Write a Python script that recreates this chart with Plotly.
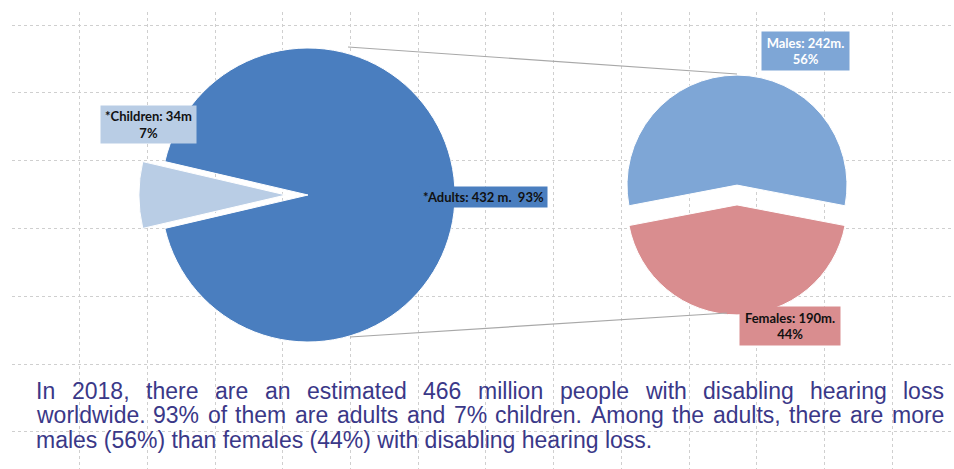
import plotly.graph_objects as go

# ---- data -------------------------------------------------------------
age_groups = ["*Children", "*Adults"]
age_values = [34, 432]            # millions of people
age_units = ["m", " m."]

sex_groups = ["Males", "Females"]
sex_values = [242, 190]           # millions of adults

caption_lines = [
    "In 2018, there are an estimated 466 million people with disabling hearing loss",
    "worldwide. 93% of them are adults and 7% children. Among the adults, there are more",
    "males (56%) than females (44%) with disabling hearing loss.",
]

# ---- page geometry (pixel coordinates, y grows downward) --------------
W, H = 954, 469
ML, MT = 12, 12
PW, PH = W - ML, H - MT

BIG = dict(cx=308, cy=195, r=147, pull=0.15)
SMALL = dict(cx=737, cy=195, r=110, pull=0.09)

ADULT_BLUE = "#4a7ebf"
CHILD_BLUE = "#b9cde5"
MALE_BLUE = "#7ea6d6"
FEMALE_RED = "#d98d8f"
CAPTION = "#3a3888"


def pie_domain(cx, cy, r, pull):
    half = r * (1 + pull)
    return dict(
        x=[(cx - half - ML) / PW, (cx + half - ML) / PW],
        y=[1 - (cy + half - MT) / PH, 1 - (cy - half - MT) / PH],
    )


fig = go.Figure()

# empty trace so the dotted cartesian grid is laid out behind the pies
fig.add_trace(go.Scatter(x=[None], y=[None], showlegend=False, hoverinfo="skip"))

child_share = age_values[0] / sum(age_values)
fig.add_trace(go.Pie(
    labels=age_groups, values=age_values, sort=False, direction="clockwise",
    rotation=270 - 180 * child_share,
    pull=[BIG["pull"], 0],
    marker=dict(colors=[CHILD_BLUE, ADULT_BLUE], line=dict(color="white", width=1)),
    textinfo="none", hoverinfo="label+value+percent", showlegend=False,
    domain=pie_domain(**BIG),
))

male_share = sex_values[0] / sum(sex_values)
fig.add_trace(go.Pie(
    labels=sex_groups, values=sex_values, sort=False, direction="clockwise",
    rotation=-180 * male_share,
    pull=[SMALL["pull"], SMALL["pull"]],
    marker=dict(colors=[MALE_BLUE, FEMALE_RED], line=dict(color="white", width=1)),
    textinfo="none", hoverinfo="label+value+percent", showlegend=False,
    domain=pie_domain(**SMALL),
))

# connector lines from the large pie to the breakdown pie
for (x0, y0, x1, y1) in [(348, 47, 737, 74), (350, 337, 727, 313)]:
    fig.add_shape(type="line", xref="x", yref="y", x0=x0, y0=y0, x1=x1, y1=y1,
                  line=dict(color="#a8a8a8", width=1.2))

# ---- slice labels ------------------------------------------------------
age_total = sum(age_values)
sex_total = sum(sex_values)
child_txt = f"<b>{age_groups[0]}: {age_values[0]}{age_units[0]}<br>{round(100 * age_values[0] / age_total)}%</b>"
adult_txt = f"<b>{age_groups[1]}: {age_values[1]}{age_units[1]}&nbsp;&nbsp;{round(100 * age_values[1] / age_total)}%</b>"
male_txt = f"<b>{sex_groups[0]}: {sex_values[0]}m.<br>{round(100 * sex_values[0] / sex_total)}%</b>"
female_txt = f"<b>{sex_groups[1]}: {sex_values[1]}m.<br>{round(100 * sex_values[1] / sex_total)}%</b>"

label_font = "Lato, Carlito, sans-serif"
for txt, cx, cy, w, h, bg, fc in [
    (child_txt, 148, 124, 95, 37, CHILD_BLUE, "#111111"),
    (adult_txt, 483, 197, 127, 20, ADULT_BLUE, "#111111"),
    (male_txt, 805, 51, 87, 38, MALE_BLUE, "#ffffff"),
    (female_txt, 790, 326, 100, 38, FEMALE_RED, "#111111"),
]:
    fig.add_annotation(x=cx, y=cy, xref="x", yref="y", text=txt, showarrow=False,
                       width=w, height=h, bgcolor=bg, borderpad=0,
                       font=dict(family=label_font, size=13, color=fc),
                       align="center", valign="middle")

# ---- justified caption -------------------------------------------------
# Arial / Liberation Sans advance widths (1/1000 em)
GLYPH_W = {" ": 278, ",": 278, ".": 278, "%": 889, "(": 333, ")": 333, "A": 667, "I": 278,
           "a": 556, "b": 556, "c": 500, "d": 556, "e": 556, "f": 278, "g": 556, "h": 556,
           "i": 222, "l": 222, "m": 833, "n": 556, "o": 556, "p": 556, "r": 333, "s": 500,
           "t": 278, "u": 556, "w": 722}
CAP_SIZE = 23
CAP_LEFT, CAP_RIGHT = 35, 943
CAP_Y = [391, 415, 440]


def word_width(word):
    return sum(GLYPH_W.get(ch, 556) for ch in word) * CAP_SIZE / 1000


cap_font = dict(family="Liberation Sans, Arial, sans-serif", size=CAP_SIZE, color=CAPTION)
for i, line in enumerate(caption_lines):
    if i < len(caption_lines) - 1:
        words = line.split(" ")
        widths = [word_width(w) for w in words]
        gap = (CAP_RIGHT - CAP_LEFT - sum(widths)) / (len(words) - 1)
        x = CAP_LEFT
        for w, wd in zip(words, widths):
            fig.add_annotation(x=x, y=CAP_Y[i], xref="x", yref="y", text=w, showarrow=False,
                               xanchor="left", yanchor="middle", borderpad=0, font=cap_font)
            x += wd + gap
    else:
        fig.add_annotation(x=CAP_LEFT, y=CAP_Y[i], xref="x", yref="y", text=line,
                           showarrow=False, xanchor="left", yanchor="middle",
                           borderpad=0, font=cap_font)

grid = dict(showgrid=True, gridcolor="#cfcfcf", griddash="dot", gridwidth=1,
            zeroline=False, showticklabels=False, ticks="", showline=False, fixedrange=True)

fig.update_layout(
    width=W, height=H,
    margin=dict(l=ML, r=0, t=MT, b=0),
    paper_bgcolor="white", plot_bgcolor="white",
    xaxis=dict(range=[ML, W], tick0=12, dtick=67.7, **grid),
    yaxis=dict(range=[H, MT], tick0=25, dtick=67.8, **grid),
    showlegend=False,
)

fig.write_html("out.html")
